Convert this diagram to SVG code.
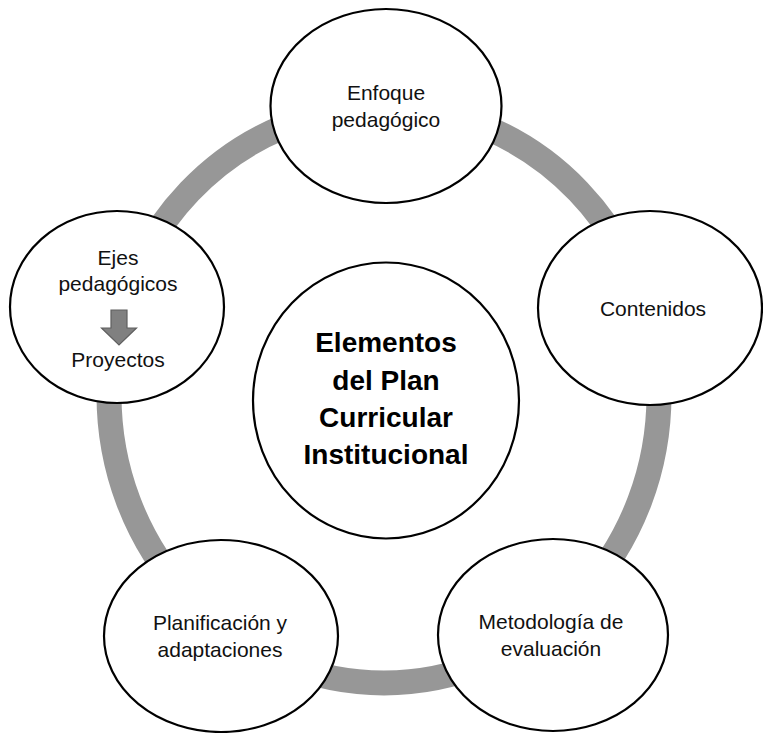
<svg xmlns="http://www.w3.org/2000/svg" width="763" height="733" viewBox="0 0 763 733">
<style>
.node{fill:#ffffff;stroke:#000000;stroke-width:2.2}
.t{font-family:"Liberation Sans",Arial,sans-serif;font-size:21px;fill:#111111;text-anchor:middle}
.tb{font-family:"Liberation Sans",Arial,sans-serif;font-size:28px;font-weight:bold;fill:#000000;text-anchor:middle}
.ring{fill:none;stroke:#979797;stroke-width:25}
</style>
<rect width="763" height="733" fill="#ffffff"/>
<g id="connectors">
<ellipse class="ring" cx="384" cy="395" rx="275" ry="288"/>
</g>
<g id="node-center">
<ellipse class="node" cx="386" cy="400.5" rx="133" ry="138"/>
<text class="tb" x="386" y="352">Elementos</text>
<text class="tb" x="386" y="389.5">del Plan</text>
<text class="tb" x="386" y="427">Curricular</text>
<text class="tb" x="386" y="464">Institucional</text>
</g>
<g id="node-enfoque">
<ellipse class="node" cx="386" cy="106" rx="115.5" ry="97"/>
<text class="t" x="386" y="100">Enfoque</text>
<text class="t" x="386" y="127">pedagógico</text>
</g>
<g id="node-contenidos">
<ellipse class="node" cx="650" cy="308" rx="112" ry="97"/>
<text class="t" x="653" y="316">Contenidos</text>
</g>
<g id="node-metodologia">
<ellipse class="node" cx="553" cy="635" rx="115" ry="96"/>
<text class="t" x="551" y="629">Metodología de</text>
<text class="t" x="551" y="656">evaluación</text>
</g>
<g id="node-planificacion">
<ellipse class="node" cx="221" cy="636" rx="117" ry="96"/>
<text class="t" x="220" y="630">Planificación y</text>
<text class="t" x="220" y="657">adaptaciones</text>
</g>
<g id="node-ejes">
<ellipse class="node" cx="117" cy="307" rx="107" ry="96"/>
<text class="t" x="118" y="265">Ejes</text>
<text class="t" x="118" y="291">pedagógicos</text>
<path d="M111 310 H127 V328 H136.5 L119 345 L101.5 328 H111 Z" fill="#808080" stroke="#5f5f5f" stroke-width="1.2"/>
<text class="t" x="118" y="367">Proyectos</text>
</g>
</svg>
